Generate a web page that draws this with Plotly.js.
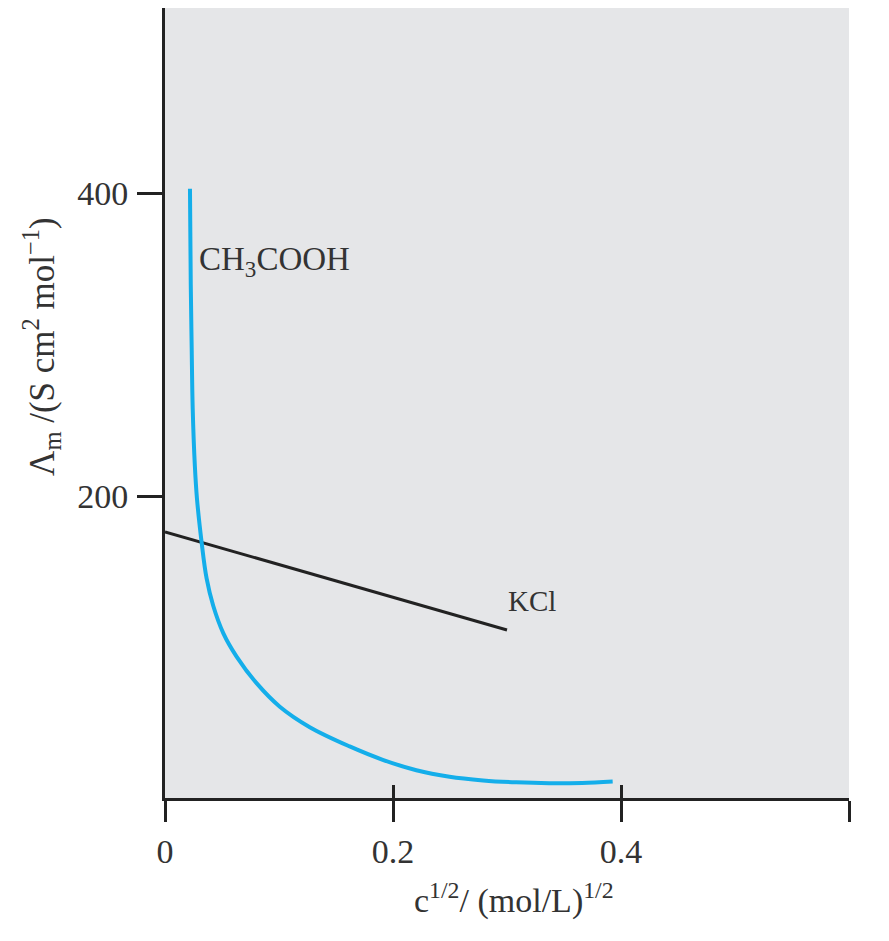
<!DOCTYPE html>
<html>
<head>
<meta charset="utf-8">
<script src="https://cdn.plot.ly/plotly-3.0.1.min.js"></script>
<style>html,body{margin:0;padding:0;background:#fff;}#chart{width:889px;height:941px;}</style>
</head>
<body>
<div id="chart"></div>
<script>
// CH3COOH (weak electrolyte) curve
const acidX = [0.0219, 0.0226, 0.0234, 0.0243, 0.0262, 0.0280, 0.0321, 0.0365, 0.0423, 0.0511, 0.0628, 0.0803, 0.1007, 0.127, 0.162, 0.191, 0.2205, 0.2496, 0.279, 0.308, 0.337, 0.366, 0.3927];
const acidY = [402.8, 340, 298, 258, 220, 199, 170, 146, 128, 110, 94.5, 77, 61.5, 48, 35.3, 26.5, 19.6, 15.3, 12.9, 11.6, 11.0, 11.2, 12.1];
// KCl (strong electrolyte) straight line
const kclX = [0, 0.300];
const kclY = [176.7, 112];
// axis ticks
const xTickVals = [0, 0.2, 0.4, 0.6];
const xTickText = ['0', '0.2', '0.4', ''];
const yTickVals = [200, 400];
const yTickText = ['200', '400'];
// labels
const acidLabel = {x: 0.028, y: 355, text: 'CH<sub>3</sub>COOH'};
const kclLabel = {x: 0.299, y: 131, text: 'KCl'};

const serif = 'Liberation Serif, Times New Roman, serif';
const ink = '#222222';
const txt = '#333333';

const traces = [
  {x: kclX, y: kclY, type: 'scatter', mode: 'lines', line: {color: ink, width: 3}, hoverinfo: 'skip'},
  {x: acidX, y: acidY, type: 'scatter', mode: 'lines', line: {color: '#14aeea', width: 4, shape: 'spline', smoothing: 1}, hoverinfo: 'skip'},
  // invisible trace to activate the overlay axis that draws the upper half of the crossing ticks
  {x: [0], y: [0], xaxis: 'x2', yaxis: 'y', type: 'scatter', mode: 'markers', marker: {opacity: 0}, hoverinfo: 'skip'}
];

const L = 165, R = 40, T = 8, B = 143, W = 889, H = 941;
const pw = W - L - R, ph = H - T - B;
const px2paperX = p => (p - L) / pw;
const px2paperY = p => (H - B - p) / ph;

const layout = {
  width: W, height: H,
  margin: {l: L, r: R, t: T, b: B},
  paper_bgcolor: '#ffffff',
  plot_bgcolor: '#e5e6e8',
  showlegend: false,
  font: {family: serif, color: txt},
  xaxis: {
    range: [0, 0.6], tickmode: 'array', tickvals: xTickVals, ticktext: xTickText,
    showgrid: false, zeroline: false, showline: true, linecolor: ink, linewidth: 3,
    ticks: 'outside', ticklen: 21, tickwidth: 3, tickcolor: ink,
    tickfont: {family: serif, size: 34, color: txt}, ticklabelstandoff: 0
  },
  xaxis2: {
    range: [0, 0.6], overlaying: 'x', matches: 'x', tickmode: 'array', tickvals: xTickVals,
    showticklabels: false, showgrid: false, zeroline: false, showline: false,
    ticks: 'inside', ticklen: 13, tickwidth: 3, tickcolor: ink
  },
  yaxis: {
    range: [1.3, 522], tickmode: 'array', tickvals: yTickVals, ticktext: yTickText,
    showgrid: false, zeroline: false, showline: true, linecolor: ink, linewidth: 3,
    ticks: 'outside', ticklen: 25, tickwidth: 3, tickcolor: ink,
    tickfont: {family: serif, size: 34, color: txt}, ticklabelstandoff: 2
  },
  annotations: [
    {x: acidLabel.x, y: acidLabel.y, xref: 'x', yref: 'y', text: acidLabel.text, showarrow: false,
     xanchor: 'left', yanchor: 'middle', font: {family: serif, size: 33, color: txt}},
    {x: kclLabel.x, y: kclLabel.y, xref: 'x', yref: 'y', text: kclLabel.text, showarrow: false,
     xanchor: 'left', yanchor: 'middle', font: {family: serif, size: 29, color: txt}},
    {x: px2paperX(42), y: px2paperY(347), xref: 'paper', yref: 'paper',
     text: 'Λ<sub>m</sub> /(S cm<sup>2</sup> mol<sup>−1</sup>)',
     showarrow: false, textangle: -90, xanchor: 'center', yanchor: 'middle',
     font: {family: serif, size: 35, color: txt}},
    {x: px2paperX(514), y: px2paperY(898), xref: 'paper', yref: 'paper',
     text: 'c<sup>1/2</sup>/ (mol/L)<sup>1/2</sup>',
     showarrow: false, xanchor: 'center', yanchor: 'middle',
     font: {family: serif, size: 34, color: txt}}
  ]
};

Plotly.newPlot('chart', traces, layout, {displayModeBar: false, staticPlot: true});
</script>
</body>
</html>
